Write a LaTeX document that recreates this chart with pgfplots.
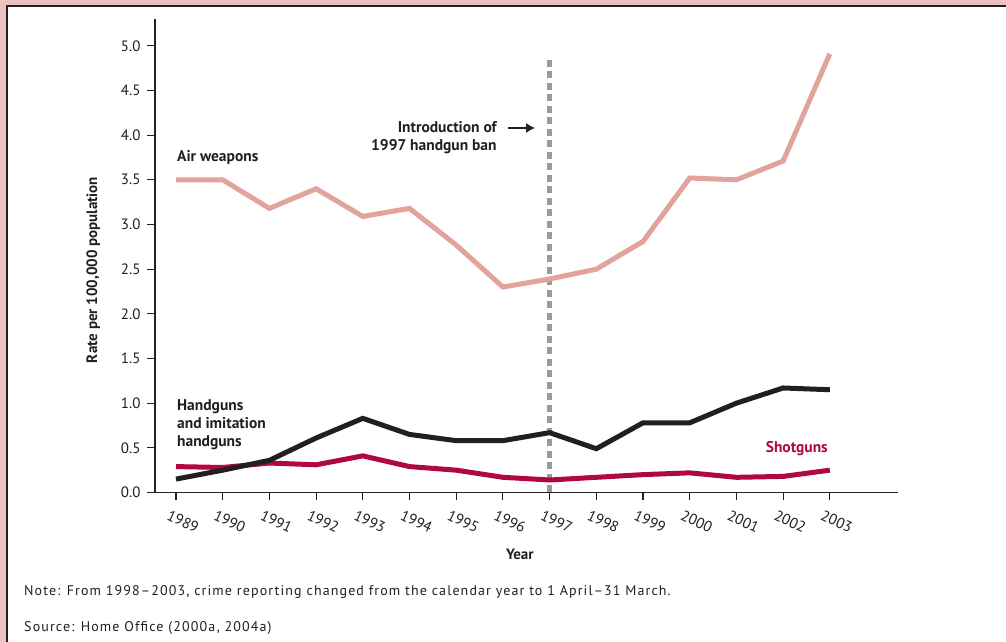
\documentclass[border=0pt]{standalone}
\usepackage{pgfplots}
\pgfplotsset{compat=1.18}
\usepackage{fontspec}
\setmainfont{PT Sans}
\usetikzlibrary{arrows.meta}

\definecolor{ink}{HTML}{231F20}
\definecolor{airpink}{HTML}{E1A39C}
\definecolor{shotred}{HTML}{B0093C}
\definecolor{bangrey}{HTML}{9B9B9B}
\definecolor{framepink}{HTML}{EAC3BE}

\begin{document}
\begin{tikzpicture}[x=1pt,y=1pt]
\useasboundingbox (0,0) rectangle (1006,642);
\fill[framepink] (0,0) rectangle (1006,642);
\fill[ink] (6,0) rectangle (1006,637);
\fill[white] (8,0) rectangle (1006,635);

\begin{axis}[
    at={(155pt,149.5pt)}, anchor=south west,
    scale only axis, width=743pt, height=473.5pt,
    xmin=1988.55, xmax=2004.46,
    ymin=0, ymax=5.3,
    clip=false,
    axis x line*=bottom, axis y line*=left,
    axis line style={ink, line width=1.3pt},
    tick align=outside, major tick length=8pt,
    major tick style={ink, line width=1.1pt},
    xtick={1989,...,2003},
    ytick={0,0.5,1,1.5,2,2.5,3,3.5,4,4.5,5},
    /pgf/number format/assume math mode=true,
    ticklabel style={font=\fontsize{15}{17}\selectfont, text=ink},
    xticklabel style={/pgf/number format/1000 sep={}, anchor=center, xshift=7pt, yshift=-21pt, rotate=-25},
    yticklabel style={/pgf/number format/fixed, /pgf/number format/precision=1,
        /pgf/number format/fixed zerofill, xshift=-3pt},
    xlabel={Year}, ylabel={Rate per 100,000 population},
    label style={font=\bfseries\fontsize{15}{17}\selectfont, text=ink},
    xlabel style={at={(rel axis cs:0.491,-0.13)}, anchor=center},
    ylabel style={at={(rel axis cs:-0.083,0.47)}, anchor=center},
]

% introduction of the 1997 ban
\addplot[bangrey, line width=4.5pt, dash pattern=on 7pt off 4.5pt]
    coordinates {(1997,0)(1997,4.84)};

% air weapons
\addplot[airpink, line width=5pt] coordinates {
    (1989,3.50)(1990,3.50)(1991,3.18)(1992,3.40)(1993,3.09)
    (1994,3.18)(1995,2.77)(1996,2.30)(1997,2.39)(1998,2.50)
    (1999,2.81)(2000,3.52)(2001,3.50)(2002,3.71)(2003,4.91)
};

% shotguns
\addplot[shotred, line width=5pt] coordinates {
    (1989,0.29)(1990,0.28)(1991,0.33)(1992,0.31)(1993,0.41)
    (1994,0.29)(1995,0.25)(1996,0.17)(1997,0.14)(1998,0.17)
    (1999,0.20)(2000,0.22)(2001,0.17)(2002,0.18)(2003,0.25)
};

% handguns and imitation handguns
\addplot[ink, line width=5pt] coordinates {
    (1989,0.15)(1990,0.25)(1991,0.36)(1992,0.61)(1993,0.83)
    (1994,0.65)(1995,0.58)(1996,0.58)(1997,0.67)(1998,0.49)
    (1999,0.78)(2000,0.78)(2001,1.00)(2002,1.17)(2003,1.15)
};

\begin{scope}[font=\bfseries\fontsize{15.5}{18}\selectfont, text=ink, inner sep=0pt]
\node[anchor=west] at (axis cs:1989.02,3.745) {Air weapons};
\node[anchor=west, align=left] at (axis cs:1989.02,0.756)
    {Handguns\\and imitation\\handguns};
\node[anchor=east, text=shotred] at (axis cs:2002.96,0.487) {Shotguns};
\node[anchor=east, align=right] at (axis cs:1995.87,3.97)
    {Introduction of\\1997 handgun ban};
\end{scope}
\draw[ink, line width=2.2pt, -{Latex[length=9pt,width=10pt]}]
    (axis cs:1996.11,4.08) -- (axis cs:1996.69,4.08);
\end{axis}

\begin{scope}[text=ink, font=\fontsize{14}{16}\selectfont\addfontfeature{LetterSpace=8}, inner sep=0pt]
\node[anchor=base west] at (24,46)
    {Note: From 1998--2003, crime reporting changed from the calendar year to 1 April--31 March.};
\node[anchor=base west] at (24,10)
    {Source: Home Office (2000a, 2004a)};
\end{scope}
\end{tikzpicture}
\end{document}
